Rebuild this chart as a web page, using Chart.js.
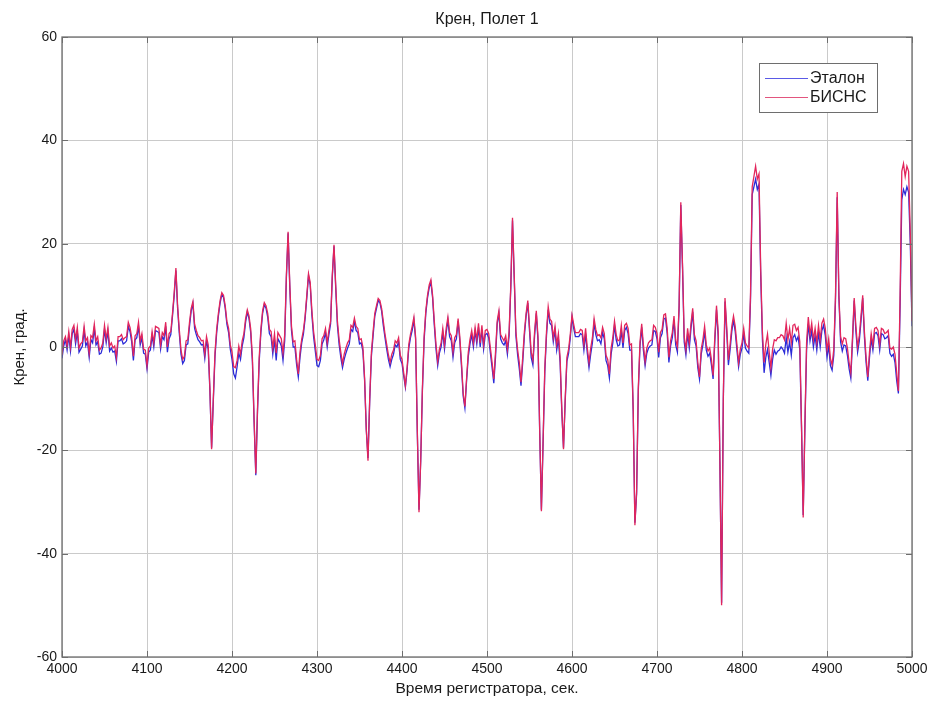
<!DOCTYPE html>
<html>
<head>
<meta charset="utf-8">
<script src="https://cdn.jsdelivr.net/npm/chart.js@4.4.1/dist/chart.umd.min.js"></script>
<style>
  html,body{margin:0;padding:0;background:#fff;}
  #wrap{width:932px;height:702px;position:relative;}
</style>
</head>
<body>
<div id="wrap"><canvas id="c" width="932" height="702"></canvas></div>
<script>
const chartTitle = "Крен, Полет 1";
const xTitle = "Время регистратора, сек.";
const yTitle = "Крен, град.";
const seriesNames = ["Эталон", "БИСНС"];
const xTicks = [4000,4100,4200,4300,4400,4500,4600,4700,4800,4900,5000];
const yTicks = [-60,-40,-20,0,20,40,60];

const times = [
4000,4002,4004,4006,4008,4010,4012,4014,4016,4018,
4020,4022,4024,4026,4028,4030,4032,4034,4036,4038,
4040,4042,4044,4046,4048,4050,4052,4054,4056,4058,
4060,4062,4064,4066,4068,4070,4072,4074,4076,4078,
4080,4082,4084,4086,4088,4090,4092,4094,4096,4098,
4100,4102,4104,4106,4108,4110,4112,4114,4116,4118,
4120,4122,4124,4126,4128,4130,4132,4134,4136,4138,
4140,4142,4144,4146,4148,4150,4152,4154,4156,4158,
4160,4162,4164,4166,4168,4170,4172,4174,4176,4178,
4180,4182,4184,4186,4188,4190,4192,4194,4196,4198,
4200,4202,4204,4206,4208,4210,4212,4214,4216,4218,
4220,4222,4224,4226,4228,4230,4232,4234,4236,4238,
4240,4242,4244,4246,4248,4250,4252,4254,4256,4258,
4260,4262,4264,4266,4268,4270,4272,4274,4276,4278,
4280,4282,4284,4286,4288,4290,4292,4294,4296,4298,
4300,4302,4304,4306,4308,4310,4312,4314,4316,4318,
4320,4322,4324,4326,4328,4330,4332,4334,4336,4338,
4340,4342,4344,4346,4348,4350,4352,4354,4356,4358,
4360,4362,4364,4366,4368,4370,4372,4374,4376,4378,
4380,4382,4384,4386,4388,4390,4392,4394,4396,4398,
4400,4402,4404,4406,4408,4410,4412,4414,4416,4418,
4420,4422,4424,4426,4428,4430,4432,4434,4436,4438,
4440,4442,4444,4446,4448,4450,4452,4454,4456,4458,
4460,4462,4464,4466,4468,4470,4472,4474,4476,4478,
4480,4482,4484,4486,4488,4490,4492,4494,4496,4498,
4500,4502,4504,4506,4508,4510,4512,4514,4516,4518,
4520,4522,4524,4526,4528,4530,4532,4534,4536,4538,
4540,4542,4544,4546,4548,4550,4552,4554,4556,4558,
4560,4562,4564,4566,4568,4570,4572,4574,4576,4578,
4580,4582,4584,4586,4588,4590,4592,4594,4596,4598,
4600,4602,4604,4606,4608,4610,4612,4614,4616,4618,
4620,4622,4624,4626,4628,4630,4632,4634,4636,4638,
4640,4642,4644,4646,4648,4650,4652,4654,4656,4658,
4660,4662,4664,4666,4668,4670,4672,4674,4676,4678,
4680,4682,4684,4686,4688,4690,4692,4694,4696,4698,
4700,4702,4704,4706,4708,4710,4712,4714,4716,4718,
4720,4722,4724,4726,4728,4730,4732,4734,4736,4738,
4740,4742,4744,4746,4748,4750,4752,4754,4756,4758,
4760,4762,4764,4766,4768,4770,4772,4774,4776,4778,
4780,4782,4784,4786,4788,4790,4792,4794,4796,4798,
4800,4802,4804,4806,4808,4810,4812,4814,4816,4818,
4820,4822,4824,4826,4828,4830,4832,4834,4836,4838,
4840,4842,4844,4846,4848,4850,4852,4854,4856,4858,
4860,4862,4864,4866,4868,4870,4872,4874,4876,4878,
4880,4882,4884,4886,4888,4890,4892,4894,4896,4898,
4900,4902,4904,4906,4908,4910,4912,4914,4916,4918,
4920,4922,4924,4926,4928,4930,4932,4934,4936,4938,
4940,4942,4944,4946,4948,4950,4952,4954,4956,4958,
4960,4962,4964,4966,4968,4970,4972,4974,4976,4978,
4980,4982,4984,4986,4988,4990,4992,4994,4996,4998,
5000
];

// Эталон (blue)
const etalon = [
-2.2,0.2,1.4,-0.6,2.2,-0.8,2.6,3.4,0.6,3.0,
-1.0,-0.4,0.2,3.2,0.2,1.0,-2.0,1.4,0.8,3.6,
0.4,1.0,-1.4,-1.2,0.0,3.4,0.8,3.0,-0.8,-0.2,
-1.0,-0.8,-2.8,1.2,1.2,1.6,0.6,0.8,1.2,4.0,
3.0,1.0,-2.6,1.4,1.8,4.0,0.4,1.8,-1.2,-1.4,
-4.2,-1.0,-0.6,2.2,0.0,3.2,3.0,2.8,-0.4,2.0,
1.4,4.0,-1.0,1.6,2.4,6.0,10.0,14.8,7.5,2.6,
-1.4,-3.2,-2.6,0.4,0.6,4.0,7.0,8.4,3.6,2.4,
1.4,1.0,0.4,0.5,-2.2,1.2,-0.4,-8.5,-19.5,-10.5,
-1.8,2.8,6.0,8.5,10.2,9.6,7.5,4.4,2.8,-0.4,
-2.4,-5.2,-6.0,-3.8,-1.2,-2.4,0.2,1.8,4.8,6.8,
5.5,2.8,-2.8,-14.5,-24.8,-12.5,-2.8,2.8,6.5,8.2,
7.5,5.8,2.6,2.0,-1.4,1.4,-2.6,1.6,1.0,0.2,
-2.6,1.2,13.5,22.0,11.5,3.2,0.0,0.0,-3.4,-5.8,
-2.0,0.8,2.5,5.5,9.5,13.8,12.0,6.2,2.0,-0.8,
-3.6,-3.8,-2.6,0.6,1.4,2.8,0.0,2.4,4.5,13.5,
19.5,11.5,4.2,0.5,-2.0,-4.0,-2.4,-1.2,-0.2,0.6,
3.4,3.0,5.0,3.2,2.8,0.6,0.8,-0.8,-6.5,-16.0,
-21.5,-10.5,-1.8,2.2,6.0,7.5,9.0,8.6,7.0,4.2,
1.8,-0.4,-2.4,-3.8,-2.4,-1.4,0.4,0.0,1.0,-2.4,
-3.2,-5.6,-7.8,-4.5,-0.2,1.8,3.2,5.2,1.5,-16.5,
-31.5,-22.0,-8.5,1.2,6.5,9.5,11.5,12.5,9.5,4.2,
-0.4,-3.6,-1.2,0.0,2.8,-0.4,2.8,5.2,2.0,1.2,
-2.0,0.8,1.6,5.0,1.2,-3.8,-9.5,-11.8,-6.5,-1.8,
0.6,2.4,0.0,3.0,0.6,3.8,0.0,3.4,-0.4,2.4,
2.6,1.8,-1.2,-4.0,-7.0,-2.0,4.5,6.5,1.6,0.8,
0.4,1.2,-1.4,2.2,11.5,24.5,13.5,2.2,-1.5,-4.2,
-7.5,-3.0,2.2,6.0,8.5,3.2,-2.0,-3.5,2.2,6.5,
1.2,-16.5,-31.5,-18.5,-4.8,2.2,7.2,4.6,4.2,1.0,
3.2,-0.6,1.6,-3.0,-12.5,-19.5,-10.5,-2.8,-1.2,1.8,
5.8,3.6,2.0,2.0,2.0,2.6,2.4,-0.6,2.6,-1.2,
-4.0,-1.4,0.8,4.6,2.4,1.2,1.4,0.6,2.8,1.6,
-2.6,-3.6,-6.0,-1.4,0.8,4.2,1.4,0.2,0.4,3.2,
-0.2,3.2,3.8,2.6,-0.6,-0.6,-12.5,-34.0,-28.5,-8.5,
0.2,3.8,-0.6,-3.6,-1.2,-0.2,0.2,0.4,3.2,3.0,
1.6,-2.0,1.8,2.6,5.4,5.6,2.6,-3.0,0.2,1.8,
5.2,0.4,-1.0,7.5,27.5,15.5,1.0,-1.5,2.6,-0.2,
3.6,6.8,1.4,0.2,-4.0,-6.2,-1.4,0.4,3.0,-0.6,
-1.8,-1.2,-3.4,-6.2,1.0,7.2,2.0,-22.5,-49.5,-10.5,
8.8,3.0,-3.5,-0.5,3.0,5.2,3.0,-0.5,-3.8,-1.4,
-0.2,2.6,-0.2,-0.8,-1.2,9.0,29.5,31.0,32.5,30.5,
31.5,14.0,1.5,-5.0,-2.0,-0.5,-3.0,-5.5,-2.4,-0.6,
-1.4,-0.8,-0.6,0.0,-0.4,-1.2,1.8,-1.0,1.0,-1.6,
1.8,2.4,1.2,2.0,-0.5,-15.5,-32.5,-15.5,-0.5,4.5,
1.2,3.2,0.0,2.2,-0.6,2.8,0.0,3.2,4.2,2.2,
-2.0,0.2,-3.6,-4.5,-1.6,9.0,29.0,9.5,1.0,-0.8,
0.4,0.2,-1.6,-4.2,-6.0,1.0,9.0,3.0,-1.0,1.2,
5.0,9.5,2.0,-3.0,-6.5,-2.0,1.6,-0.6,2.6,2.8,
2.2,-0.6,2.6,2.4,1.6,1.8,2.2,-1.2,-1.8,-1.4,
-3.0,-6.5,-9.0,8.0,28.5,30.5,29.5,31.0,30.0,20.0,
4.0
];

// БИСНС (red)
const bisns = [
-1.5,1.2,2.0,0.2,3.0,0.0,3.4,4.2,1.5,3.8,
-0.2,0.6,1.0,4.0,1.2,1.8,-1.2,2.2,1.8,4.4,
1.2,2.0,-0.6,-0.2,0.8,4.2,1.6,3.8,0.2,0.8,
-0.2,0.2,-2.0,2.0,2.0,2.4,1.4,1.8,2.0,4.8,
3.8,1.8,-1.8,2.2,2.6,4.8,1.2,2.6,-0.4,-0.6,
-3.6,-0.2,0.2,3.0,0.8,4.0,3.8,3.6,0.4,2.8,
2.2,4.8,0.0,2.6,3.0,6.5,10.5,15.3,8.0,3.4,
-0.6,-2.4,-1.8,1.2,1.4,4.8,7.5,8.8,4.4,3.2,
2.2,1.8,1.2,1.3,-1.4,2.0,0.4,-8.0,-19.8,-10.0,
-1.0,3.5,6.5,9.0,10.5,10.0,8.0,5.0,3.6,0.4,
-1.0,-3.8,-4.0,-2.6,0.2,-1.4,1.2,2.6,5.5,7.2,
6.0,3.5,-2.0,-14.0,-24.5,-12.0,-2.0,3.5,7.0,8.6,
8.0,6.5,3.4,3.0,-0.2,2.6,-1.2,2.8,2.2,1.6,
-1.2,2.4,14.0,22.3,12.0,4.0,1.0,1.2,-2.4,-5.2,
-1.0,1.5,3.2,6.0,10.0,14.2,12.5,7.0,3.0,0.4,
-2.4,-2.6,-1.6,1.6,2.2,3.6,0.8,3.2,5.0,14.0,
19.8,12.0,5.0,1.5,-1.0,-3.2,-1.4,-0.2,0.8,1.4,
4.2,3.8,5.6,4.0,3.6,1.4,1.6,0.0,-6.0,-16.0,
-22.0,-10.0,-1.0,3.0,6.5,8.0,9.4,9.0,7.5,5.0,
2.5,0.5,-1.5,-3.0,-1.4,-0.6,1.2,0.8,1.8,-1.6,
-2.4,-5.0,-7.5,-4.0,0.5,2.5,4.0,5.8,2.0,-16.0,
-32.0,-22.0,-8.0,2.0,7.0,10.0,12.0,13.0,10.0,5.0,
0.5,-2.8,-0.4,0.8,3.6,0.4,3.6,5.8,2.8,2.2,
-1.0,1.8,2.4,5.5,2.0,-3.0,-9.0,-11.5,-6.0,-1.0,
1.5,3.2,0.8,3.8,1.4,4.6,0.8,4.2,0.4,3.2,
3.4,2.6,-0.2,-3.0,-6.2,-1.0,5.0,7.0,2.4,1.8,
1.2,2.2,-0.4,3.0,12.0,25.0,14.0,3.0,-0.5,-3.0,
-6.8,-2.0,3.0,6.5,9.0,4.0,-1.0,-2.5,3.0,7.0,
2.0,-16.0,-31.8,-18.0,-4.0,3.0,7.8,5.4,5.0,1.8,
4.0,0.4,2.6,-2.0,-12.0,-19.8,-10.0,-2.0,-0.4,2.5,
6.2,4.4,2.8,2.8,2.8,3.4,3.2,0.4,3.6,-0.2,
-3.0,-0.2,1.8,5.5,3.4,2.2,2.4,1.8,3.8,2.6,
-1.6,-2.4,-5.2,-0.2,1.8,5.0,2.4,1.2,1.4,4.2,
0.8,4.2,4.6,3.6,0.4,0.6,-12.0,-34.5,-28.0,-8.0,
1.0,4.5,0.4,-2.8,-0.2,0.8,1.2,1.4,4.2,3.8,
2.6,-1.0,2.8,3.4,6.2,6.4,3.6,-2.0,1.2,2.8,
6.0,1.4,0.0,8.0,28.0,16.0,2.0,-0.5,3.6,0.8,
4.6,7.5,2.4,1.2,-3.0,-5.8,-0.4,1.4,4.0,0.4,
-0.8,-0.2,-2.4,-5.5,2.0,8.0,3.0,-22.0,-50.0,-10.0,
9.5,4.0,-2.5,0.5,4.0,6.0,4.0,0.5,-3.0,-0.4,
0.8,3.6,0.8,0.2,-0.2,10.0,31.0,33.0,35.0,32.5,
33.5,15.0,3.0,-3.0,0.5,2.5,-1.0,-4.0,-0.4,1.4,
1.2,1.8,1.8,2.4,2.2,1.4,4.6,1.4,3.6,0.8,
4.2,4.4,3.2,3.8,1.0,-15.0,-33.0,-15.0,1.0,5.8,
2.4,4.6,1.4,3.6,0.8,4.2,1.4,4.6,5.4,3.6,
-0.6,1.6,-2.2,-3.5,-0.4,10.0,30.0,10.0,2.0,0.6,
1.8,1.6,-0.2,-3.0,-5.0,2.0,9.5,4.0,0.0,2.2,
6.0,10.0,3.0,-2.0,-5.8,-1.0,2.6,0.4,3.6,3.8,
3.2,0.4,3.6,3.4,2.6,2.8,3.2,-0.2,-0.4,0.0,
-1.4,-5.0,-8.5,10.0,34.0,35.5,33.0,35.0,34.0,22.0,
5.0
];

const FONT = "'Liberation Sans', Arial, Helvetica, sans-serif";
const TXT = '#1a1a1a';

function toPoints(vals){
  const n = Math.min(times.length, vals.length);
  const out = [];
  for (let i = 0; i < n; i++) out.push({x: times[i], y: vals[i]});
  return out;
}

const framePlugin = {
  id: 'matlabFrame',
  afterDraw(chart) {
    const {ctx, chartArea: a, scales} = chart;
    ctx.save();
    ctx.strokeStyle = '#6e6e6e';
    ctx.lineWidth = 1.3;
    ctx.strokeRect(a.left, a.top, a.right - a.left, a.bottom - a.top);
    ctx.lineWidth = 1;
    ctx.beginPath();
    const tl = 6;
    xTicks.forEach(v => {
      const px = Math.round(scales.x.getPixelForValue(v)) + 0.5;
      ctx.moveTo(px, a.bottom); ctx.lineTo(px, a.bottom - tl);
      ctx.moveTo(px, a.top); ctx.lineTo(px, a.top + tl);
    });
    yTicks.forEach(v => {
      const py = Math.round(scales.y.getPixelForValue(v)) + 0.5;
      ctx.moveTo(a.left, py); ctx.lineTo(a.left + tl, py);
      ctx.moveTo(a.right, py); ctx.lineTo(a.right - tl, py);
    });
    ctx.stroke();

    ctx.fillStyle = TXT;
    ctx.font = '16px ' + FONT;
    ctx.textAlign = 'center';
    ctx.textBaseline = 'middle';
    ctx.fillText(chartTitle, (a.left + a.right) / 2, a.top - 17);

    const bw = 118, bh = 49;
    const bx = a.right - 153, by = a.top + 26;
    ctx.fillStyle = '#ffffff';
    ctx.fillRect(bx, by, bw, bh);
    ctx.strokeStyle = '#6e6e6e';
    ctx.lineWidth = 1;
    ctx.strokeRect(bx + 0.5, by + 0.5, bw, bh);
    const legendColors = ['#5a5ae6', '#e2557e'];
    seriesNames.forEach((name, i) => {
      const ly = by + 15 + i * 19;
      ctx.strokeStyle = legendColors[i];
      ctx.lineWidth = 1.2;
      ctx.beginPath();
      ctx.moveTo(bx + 6, ly + 0.5); ctx.lineTo(bx + 49, ly + 0.5);
      ctx.stroke();
      ctx.fillStyle = TXT;
      ctx.font = '16px ' + FONT;
      ctx.textAlign = 'left';
      ctx.textBaseline = 'middle';
      ctx.fillText(name, bx + 51, ly + 1);
    });
    ctx.restore();
  }
};

new Chart(document.getElementById('c'), {
  type: 'line',
  data: {
    datasets: [
      { label: seriesNames[0], data: toPoints(etalon), order: 2, borderColor: '#2b2bd8', borderWidth: 1.3, pointRadius: 0, tension: 0, fill: false },
      { label: seriesNames[1], data: toPoints(bisns), order: 1, borderColor: '#e2255c', borderWidth: 1.3, pointRadius: 0, tension: 0, fill: false }
    ]
  },
  options: {
    responsive: false,
    animation: false,
    devicePixelRatio: 1,
    events: [],
    layout: { padding: { top: 37, right: 20, left: 0, bottom: 0 } },
    plugins: { legend: { display: false }, title: { display: false }, tooltip: { enabled: false } },
    scales: {
      x: {
        type: 'linear', min: 4000, max: 5000,
        afterBuildTicks: s => { s.ticks = xTicks.map(v => ({ value: v })); },
        afterFit: s => { s.height = 45; },
        ticks: { autoSkip: false, maxRotation: 0, padding: 4, color: TXT, font: { family: FONT, size: 14 }, callback: v => String(v) },
        grid: { color: '#cacaca', lineWidth: 1, drawTicks: false },
        border: { display: false },
        title: { display: true, text: xTitle, color: TXT, font: { family: FONT, size: 15.5 }, padding: { top: 0, bottom: 4 } }
      },
      y: {
        type: 'linear', min: -60, max: 60,
        afterBuildTicks: s => { s.ticks = yTicks.map(v => ({ value: v })); },
        afterFit: s => { s.width = 62; },
        ticks: { autoSkip: false, padding: 5, color: TXT, font: { family: FONT, size: 14 }, callback: v => String(v) },
        grid: { color: '#cacaca', lineWidth: 1, drawTicks: false },
        border: { display: false },
        title: { display: true, text: yTitle, color: TXT, font: { family: FONT, size: 15 }, padding: { top: 11, bottom: 0 } }
      }
    }
  },
  plugins: [framePlugin]
});
</script>
</body>
</html>
